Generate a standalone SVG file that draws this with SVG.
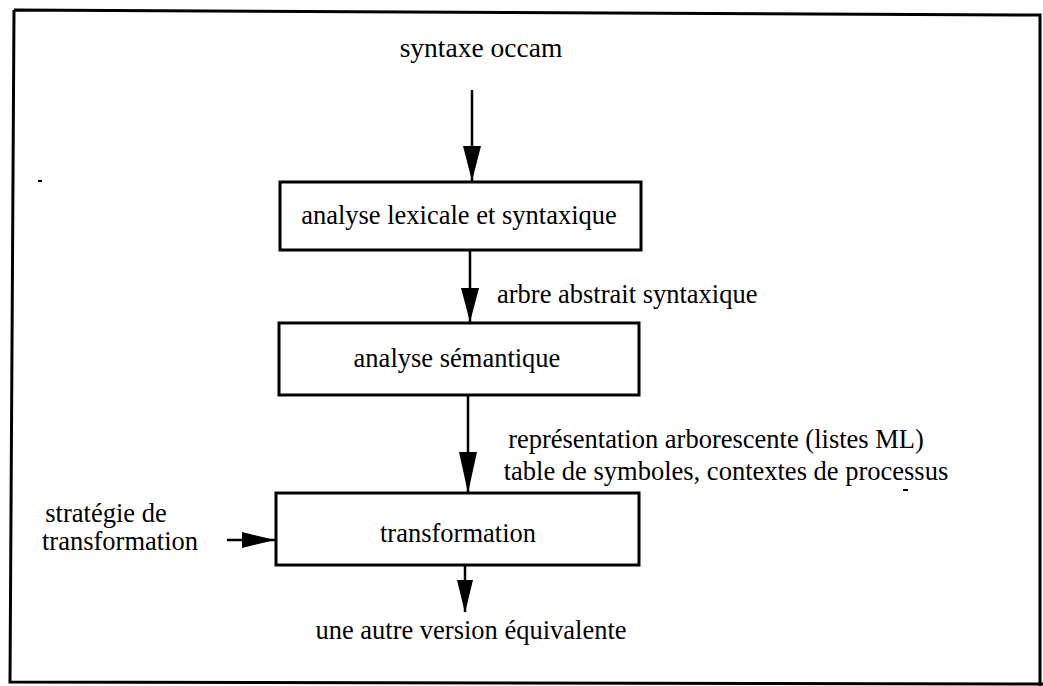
<svg xmlns="http://www.w3.org/2000/svg" width="1043" height="686" viewBox="0 0 1043 686">
  <style>
    .frame { fill: none; stroke: #000; stroke-width: 3; }
    .box { fill: #fff; stroke: #000; stroke-width: 3; }
    .wire { stroke: #000; stroke-width: 2.5; fill: none; }
    text { font-family: "Liberation Serif", "Times New Roman", serif; font-size: 26.5px; fill: #000; }
    .c { text-anchor: middle; }
  </style>
  <rect width="1043" height="686" fill="#fff"/>

  <!-- outer frame -->
  <path class="frame" d="M 14 10 L 1040 15 L 1040 686 M 14 10 L 10 682 L 1043 684"/>

  <!-- connectors: shafts and filled arrowheads -->
  <g id="connectors">
    <line class="wire" x1="472" y1="90" x2="472" y2="181"/>
    <path d="M 463 146 L 481 146 L 472 181 Z"/>
    <line class="wire" x1="470" y1="251" x2="470" y2="322"/>
    <path d="M 461 288 L 479 288 L 470 322 Z"/>
    <line class="wire" x1="468" y1="396" x2="468" y2="493"/>
    <path d="M 459 452 L 477 452 L 468 493 Z"/>
    <line class="wire" x1="227" y1="540" x2="275" y2="540"/>
    <path d="M 242 532 L 242 548 L 275 540 Z"/>
    <line class="wire" x1="465" y1="566" x2="465" y2="612"/>
    <path d="M 457 580 L 473 580 L 465 613 Z"/>
  </g>

  <g id="n-source">
    <text class="c" x="481" y="57" style="font-size:27.5px">syntaxe occam</text>
  </g>
  <g id="n-lex">
    <rect class="box" x="280" y="182" width="361" height="68"/>
    <text class="c" x="459" y="224">analyse lexicale et syntaxique</text>
  </g>
  <g id="n-ast">
    <text x="497" y="303">arbre abstrait syntaxique</text>
  </g>
  <g id="n-sem">
    <rect class="box" x="279" y="323" width="360" height="72"/>
    <text class="c" x="457" y="367">analyse sémantique</text>
  </g>
  <g id="n-repr">
    <text class="c" x="716" y="448">représentation arborescente (listes ML)</text>
    <text class="c" x="726" y="480">table de symboles, contextes de processus</text>
  </g>
  <g id="n-trans">
    <rect class="box" x="276" y="493" width="363" height="72"/>
    <text class="c" x="458" y="542">transformation</text>
  </g>
  <g id="n-strat">
    <text class="c" x="106" y="522">stratégie de</text>
    <text class="c" x="120" y="550">transformation</text>
  </g>
  <g id="n-result">
    <text class="c" x="471" y="639">une autre version équivalente</text>
  </g>

  <!-- stray marks -->
  <line x1="38" y1="181" x2="42" y2="181" stroke="#000" stroke-width="2"/>
  <line x1="903" y1="490" x2="908" y2="490" stroke="#000" stroke-width="2"/>
</svg>
